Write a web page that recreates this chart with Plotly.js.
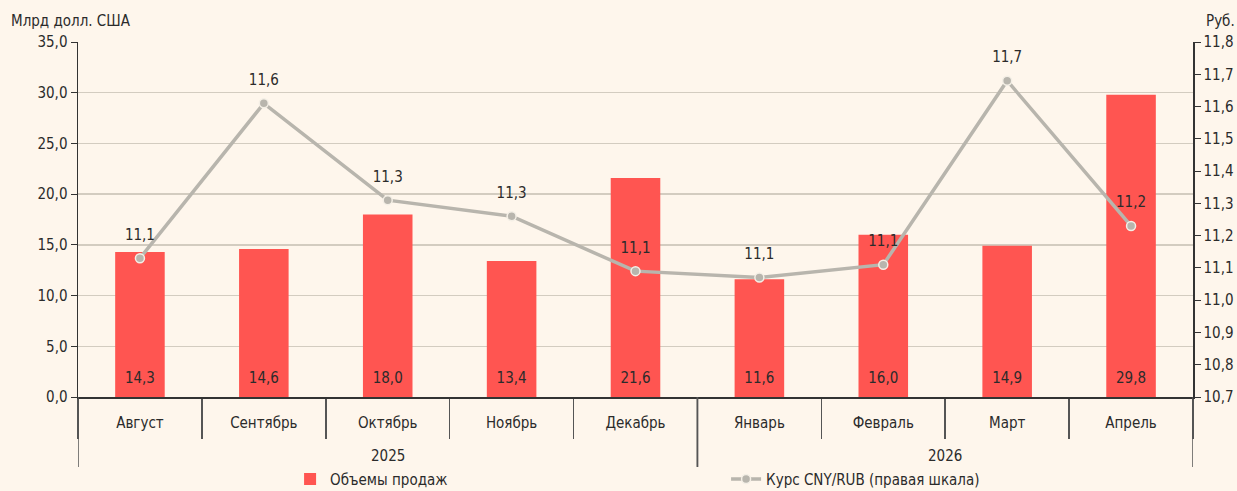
<!DOCTYPE html>
<html>
<head>
<meta charset="utf-8">
<script src="https://cdn.plot.ly/plotly-3.0.1.min.js"></script>
<style>
html,body{margin:0;padding:0;background:#FEF6EC;}
#chart{width:1237px;height:491px;}
</style>
</head>
<body>
<div id="chart"></div>
<script>
const years = ["2025","2025","2025","2025","2025","2026","2026","2026","2026"];
const months = ["Август","Сентябрь","Октябрь","Ноябрь","Декабрь","Январь","Февраль","Март","Апрель"];
const salesVolume = [14.3, 14.6, 18.0, 13.4, 21.6, 11.6, 16.0, 14.9, 29.8];
const cnyRub = [11.13, 11.61, 11.31, 11.26, 11.09, 11.07, 11.11, 11.68, 11.23];

const FONT = '"DejaVu Sans Condensed", "Liberation Sans Narrow", Roboto, sans-serif';
const TXT = '#2b2b2b';
const fmt = v => v.toFixed(1).replace('.', ',');

const bars = {
  type: 'bar',
  name: 'Объемы продаж',
  x: months,
  y: salesVolume,
  marker: {color: '#FF5551'},
  width: 0.4,
  textposition: 'none',
  hoverinfo: 'skip'
};

const barLabels = {
  type: 'scatter',
  mode: 'markers+text',
  x: months,
  y: salesVolume.map(() => 0),
  text: salesVolume.map(fmt),
  textposition: 'top center',
  textfont: {family: FONT, size: 15, color: TXT},
  marker: {size: 15, opacity: 0},
  showlegend: false,
  cliponaxis: false,
  hoverinfo: 'skip'
};

const line = {
  type: 'scatter',
  mode: 'lines+markers',
  name: 'Курс CNY/RUB (правая шкала)',
  x: months,
  y: cnyRub,
  yaxis: 'y2',
  line: {color: '#B8B5AD', width: 3.5},
  marker: {color: '#B8B5AD', size: 9, line: {color: '#F4EFE6', width: 1.5}},
  hoverinfo: 'skip'
};

const lineLabels = {
  type: 'scatter',
  mode: 'markers+text',
  x: months,
  y: cnyRub,
  yaxis: 'y2',
  text: cnyRub.map(fmt),
  textposition: 'top center',
  textfont: {family: FONT, size: 15, color: TXT},
  marker: {size: 22, opacity: 0},
  showlegend: false,
  cliponaxis: false,
  hoverinfo: 'skip'
};

// year groups derived from the years array
const groups = [];
years.forEach((y, i) => {
  if (!groups.length || groups[groups.length - 1].year !== y) groups.push({year: y, start: i, end: i});
  else groups[groups.length - 1].end = i;
});

const shapes = [];
const annotations = [
  {text: 'Млрд долл. США', xref: 'paper', yref: 'paper', x: -0.062, y: 1.06, xanchor: 'left', yanchor: 'middle', showarrow: false, font: {family: FONT, size: 15, color: TXT}},
  {text: 'Руб.', xref: 'paper', yref: 'paper', x: 1.01, y: 1.06, xanchor: 'left', yanchor: 'middle', showarrow: false, font: {family: FONT, size: 15, color: TXT}}
];
groups.forEach(g => {
  [g.start - 0.5, g.end + 0.5].forEach(b => {
    shapes.push({type: 'line', xref: 'x', yref: 'paper', x0: b, x1: b, y0: 0, y1: -0.197, line: {color: '#555', width: 1.5}, layer: 'above'});
  });
  annotations.push({text: g.year, xref: 'x', yref: 'paper', x: (g.start + g.end) / 2, y: -0.166, xanchor: 'center', yanchor: 'middle', showarrow: false, font: {family: FONT, size: 15, color: TXT}});
});

const layout = {
  width: 1237,
  height: 491,
  paper_bgcolor: '#FEF6EC',
  plot_bgcolor: '#FEF6EC',
  margin: {l: 78, r: 44, t: 42, b: 94},
  separators: ', ',
  font: {family: FONT, size: 15, color: TXT},
  showlegend: true,
  xaxis: {
    type: 'category',
    automargin: false,
    range: [-0.5, months.length - 0.5],
    showline: true,
    linecolor: '#333',
    linewidth: 1.5,
    ticks: 'outside',
    tickson: 'boundaries',
    ticklen: 40,
    tickcolor: '#555',
    tickwidth: 1.5,
    ticklabelstandoff: 11,
    tickfont: {family: FONT, size: 15, color: TXT},
    showgrid: false,
    zeroline: false
  },
  yaxis: {
    automargin: false,
    range: [0, 35],
    dtick: 5,
    tickformat: '.1f',
    showline: true,
    linecolor: '#333',
    linewidth: 1.5,
    ticks: 'outside',
    ticklen: 6,
    tickcolor: '#333',
    showgrid: true,
    gridcolor: '#D3CCC0',
    gridwidth: 1.5,
    zeroline: false,
    tickfont: {family: FONT, size: 15, color: TXT}
  },
  yaxis2: {
    automargin: false,
    overlaying: 'y',
    side: 'right',
    range: [10.7, 11.8],
    dtick: 0.1,
    tickformat: '.1f',
    showline: true,
    linecolor: '#333',
    linewidth: 1.5,
    ticks: 'outside',
    ticklen: 6,
    tickcolor: '#333',
    showgrid: false,
    zeroline: false,
    tickfont: {family: FONT, size: 15, color: TXT}
  },
  legend: {
    orientation: 'h',
    xref: 'container',
    yref: 'container',
    x: 0.2345,
    xanchor: 'left',
    y: 0.024,
    yanchor: 'middle',
    entrywidth: 391,
    entrywidthmode: 'pixels',
    bgcolor: 'rgba(0,0,0,0)',
    font: {family: FONT, size: 15, color: TXT}
  },
  shapes: shapes,
  annotations: annotations
};

Plotly.newPlot('chart', [bars, line, barLabels, lineLabels], layout, {displayModeBar: false, staticPlot: true});
</script>
</body>
</html>
